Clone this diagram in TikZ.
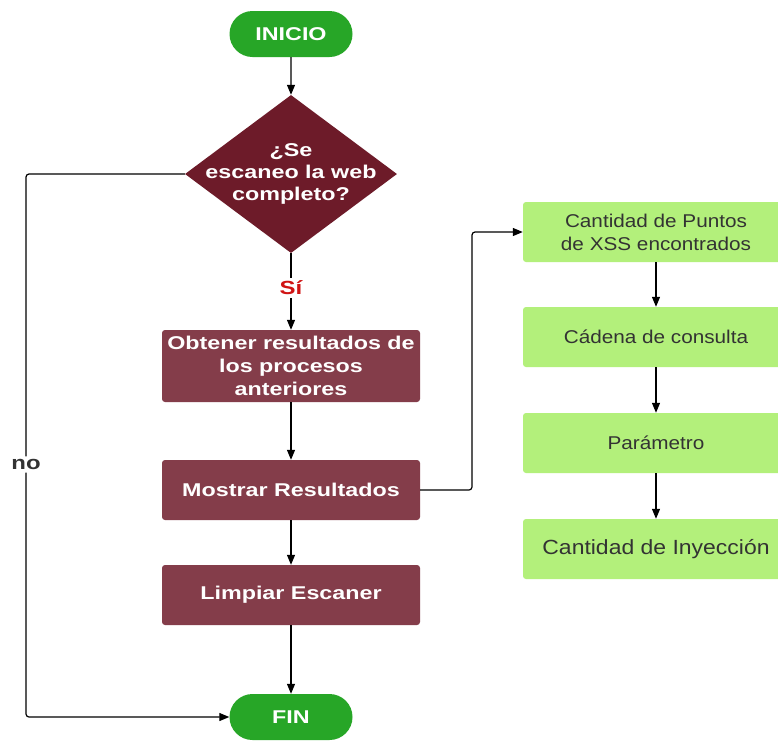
\documentclass[tikz,border=0pt]{standalone}
\usepackage{fontspec}
\setmainfont{Liberation Sans}
\newfontfamily\headfont[FakeStretch=1.26]{Liberation Sans Bold}
\newfontfamily\bodyfont[FakeStretch=1.12]{Liberation Sans}
\usetikzlibrary{arrows.meta,shapes.geometric,shapes.misc,calc}
\definecolor{startgreen}{HTML}{27A627}
\definecolor{stepred}{HTML}{843D4A}
\definecolor{askred}{HTML}{6D1B29}
\definecolor{infogreen}{HTML}{B3F07B}
\definecolor{labelgray}{HTML}{333333}
\definecolor{yesred}{HTML}{D01414}
\tikzset{
  x=1pt, y=-1pt,
  terminal/.style={rounded rectangle, fill=startgreen, minimum width=123pt, minimum height=46pt,
    inner sep=0pt, text=white, font=\headfont\fontsize{18.5}{23}\selectfont},
  stepbox/.style={rectangle, rounded corners=3pt, fill=stepred, minimum width=258pt,
    inner sep=0pt, text=white, align=center, font=\headfont\fontsize{18.5}{23}\selectfont},
  question/.style={diamond, fill=askred, minimum width=212pt, minimum height=158pt,
    inner sep=0pt},
  questiontext/.style={text=white, align=center, inner sep=0pt,
    font=\headfont\fontsize{18.5}{22}\selectfont},
  infobox/.style={rectangle, rounded corners=3pt, fill=infogreen, minimum width=266pt,
    minimum height=60pt, inner sep=0pt, text=labelgray, align=center,
    font=\bodyfont\fontsize{18.5}{23}\selectfont},
  flow/.style={draw=black, line width=1.2pt, -{Triangle[length=10pt,width=8pt]}},
  tag/.style={fill=white, inner sep=3pt, font=\headfont\fontsize{19}{23}\selectfont}
}
\begin{document}
\begin{tikzpicture}
\useasboundingbox (0,0) rectangle (778,740);
\fill[white] (0,0) rectangle (778,740);

% main column
\node[terminal] (inicio) at (291,34) {INICIO};
\node[question] (scan) at (291,174) {};
\node[questiontext] (scantext) at (scan.center) {¿Se\\escaneo la web\\completo?};
\node[stepbox, minimum height=72pt] (obtener) at (291,366) {Obtener resultados de\\los procesos\\anteriores};
\node[stepbox, minimum height=60pt] (mostrar) at (291,490) {Mostrar Resultados};
\node[stepbox, minimum height=60pt] (limpiar) at (291,595) {Limpiar Escaner};
\node[terminal] (fin) at (291,717) {FIN};

% result details column
\node[infobox] (puntos) at (656,232) {Cantidad de Puntos\\de XSS encontrados};
\node[infobox] (cadena) at (656,337) {Cádena de consulta};
\node[infobox] (param) at (656,443) {Parámetro};
\node[infobox, font=\bodyfont\fontsize{20.5}{23}\selectfont] (inyec) at (656,549) {Cantidad de Inyección};

% connectors
\draw[flow] (inicio) -- (scan);
\draw[flow] (scan.south) -- node[pos=0.45, tag, text=yesred] {Sí} (obtener.north);
\draw[flow] (obtener) -- (mostrar);
\draw[flow] (mostrar) -- (limpiar);
\draw[flow] (limpiar) -- (fin);

\coordinate (nocorner) at (26,174);
\draw[flow, rounded corners=3pt] (scan.west) -- (nocorner)
  -- node[pos=0.535, tag, text=labelgray] {no} (nocorner |- fin.west) -- (fin.west);

\coordinate (outcorner) at (472,490);
\draw[flow, rounded corners=3pt] (mostrar.east) -- (outcorner) |- (puntos.west);

\draw[flow] (puntos) -- (cadena);
\draw[flow] (cadena) -- (param);
\draw[flow] (param) -- (inyec);
\end{tikzpicture}
\end{document}
